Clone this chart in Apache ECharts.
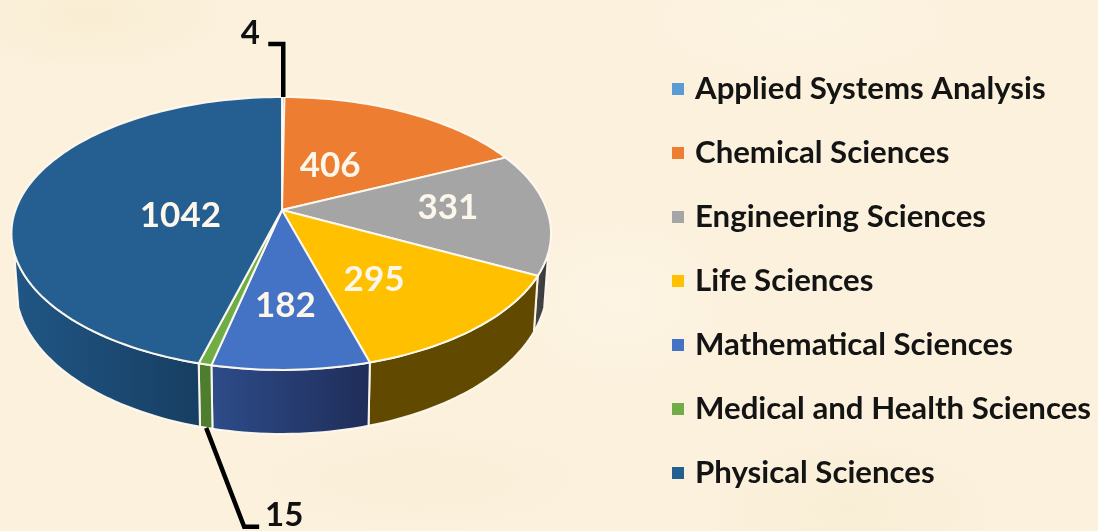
<!DOCTYPE html>
<html>
<head>
<meta charset="utf-8">
<style>
  html, body { margin: 0; height: 100%; background: #fbf1dd; }
  body {
    background-image:
      radial-gradient(ellipse 150px 60px at 90px 15px, #f9eed3 0%, rgba(249,238,211,0) 100%),
      radial-gradient(ellipse 180px 70px at 800px 20px, #fdf3e2 0%, rgba(253,243,226,0) 100%),
      radial-gradient(ellipse 120px 90px at 620px 300px, #fdf4e4 0%, rgba(253,244,228,0) 100%),
      radial-gradient(ellipse 200px 60px at 420px 480px, #faefd8 0%, rgba(250,239,216,0) 100%),
      radial-gradient(ellipse 160px 80px at 850px 510px, #f9eed5 0%, rgba(249,238,213,0) 100%);
  }
  #chart { width: 1098px; height: 531px; filter: blur(0.6px); }
</style>
</head>
<body>
<div id="chart"></div>
<script src="https://cdn.jsdelivr.net/npm/echarts@6/dist/echarts.min.js"></script>
<script>
const categories = ['Applied Systems Analysis', 'Chemical Sciences', 'Engineering Sciences', 'Life Sciences',
  'Mathematical Sciences', 'Medical and Health Sciences', 'Physical Sciences'];
const values = [4, 406, 331, 295, 182, 15, 1042];

const colors = ['#5b9bd5', '#ed7d31', '#a5a5a5', '#ffc000', '#4472c4', '#70ad47', '#255e91'];
const wallColors = [
  ['#35608a', '#35608a'],
  ['#8a4a1d', '#8a4a1d'],
  ['#4d4d4d', '#333333'],
  ['#614a00', '#614a00'],
  ['#2d4c89', '#1f2d59'],
  ['#4e7d30', '#4e7d30'],
  ['#205685', '#173e62']
];

// perspective of the tilted disc, fitted to the reference
const APEX_X = 282, APEX_Y = 210, RX = 265, RX_LEFT = 266.5, RY = 132.4, TILT = 0.172;
const DROP = 50.6, SCALE_X = 0.985, SCALE_Y = 1.084;
const WALL_FROM = 108, WALL_TO = 252;
// where each inside label sits on the disc: [angle, radius]
const LABEL_AT = [null, [28.6, 0.403], [88.6, 0.628], [146.7, 0.58], [179, 0.645], null, [263.2, 0.381]];

const total = values.reduce((a, b) => a + b, 0);
const starts = values.map((v, i) => values.slice(0, i).reduce((a, b) => a + b, 0));

function topPoint(deg, r) {
  const t = deg * Math.PI / 180;
  const u = Math.sin(t) * r, v = -Math.cos(t) * r;
  const w = 1 - TILT * v;
  return [APEX_X + (u < 0 ? RX_LEFT : RX) * u / w, APEX_Y + RY * v / w];
}

function lowPoint(deg) {
  const p = topPoint(deg, 1);
  return [APEX_X + (p[0] - APEX_X) * SCALE_X, APEX_Y + DROP + (p[1] - APEX_Y) * SCALE_Y];
}

function arc(from, to, fn) {
  const pts = [];
  const n = Math.max(2, Math.ceil((to - from) / 1.5));
  for (let i = 0; i <= n; i++) pts.push(fn(from + (to - from) * i / n));
  return pts;
}

function renderSlice(index, params, api) {
  const from = starts[index] / total * 360;
  const to = from + api.value(0) / total * 360;
  const mid = (from + to) / 2;
  const edge = 'rgba(255,250,240,0.95)';
  const children = [];

  const a = Math.max(from, WALL_FROM), b = Math.min(to, WALL_TO);
  if (b > a) {
    const upper = arc(a, b, (d) => topPoint(d, 1));
    const lower = arc(a, b, lowPoint).reverse();
    children.push({
      type: 'polygon',
      z2: 1,
      shape: { points: upper.concat(lower) },
      style: {
        fill: new echarts.graphic.LinearGradient(0, 0, 1, 0, [
          { offset: 0, color: wallColors[index][0] },
          { offset: 1, color: wallColors[index][1] }
        ]),
        stroke: edge,
        lineWidth: 2
      }
    });
  }

  const rim = arc(from, to, (d) => topPoint(d, 1));
  children.push({
    type: 'polygon',
    z2: 2,
    shape: { points: [[APEX_X, APEX_Y]].concat(rim) },
    style: { fill: colors[index], stroke: edge, lineWidth: index === 0 ? 1.5 : 2 }
  });

  if (LABEL_AT[index]) {
    const c = topPoint(LABEL_AT[index][0], LABEL_AT[index][1]);
    children.push({
      type: 'text',
      z2: 3,
      style: {
        text: String(values[index]),
        x: c[0], y: c[1],
        fill: '#fdf6ea',
        font: 'bold 35px Lato',
        textAlign: 'center',
        textVerticalAlign: 'middle'
      }
    });
  }

  // the two thin slices get a leader line outside the disc
  if (index === 0) {
    const p = topPoint(mid, 1);
    children.push({
      type: 'polyline', z2: 3,
      shape: { points: [p, [p[0], p[1] - 53], [p[0] - 15, p[1] - 53]] },
      style: { stroke: '#000', lineWidth: 4.5, fill: null }
    });
    children.push({
      type: 'text', z2: 3,
      style: { text: String(values[index]), x: p[0] - 33, y: p[1] - 64, fill: '#111', font: 'bold 33px Lato',
        textAlign: 'center', textVerticalAlign: 'middle' }
    });
  }
  if (index === 5) {
    const p = lowPoint(mid);
    children.push({
      type: 'polyline', z2: 3,
      shape: { points: [p, [p[0] + 38, p[1] + 99], [p[0] + 53, p[1] + 99]] },
      style: { stroke: '#000', lineWidth: 4.5, fill: null }
    });
    children.push({
      type: 'text', z2: 3,
      style: { text: String(values[index]), x: p[0] + 78, y: p[1] + 88, fill: '#111', font: 'bold 33px Lato',
        textAlign: 'center', textVerticalAlign: 'middle' }
    });
  }
  return { type: 'group', children: children };
}

const chart = echarts.init(document.getElementById('chart'), null, { renderer: 'canvas' });
chart.setOption({
  animation: false,
  legend: {
    data: categories,
    orient: 'vertical',
    left: 667,
    top: 66,
    icon: 'rect',
    itemWidth: 12,
    itemHeight: 12,
    itemGap: 28,
    selectedMode: false,
    textStyle: { fontFamily: 'Lato', fontWeight: 'bold', fontSize: 31.2, lineHeight: 36, color: '#141414', padding: [0, 0, 0, 6] }
  },
  series: categories.map((name, i) => ({
    type: 'custom',
    name: name,
    coordinateSystem: 'none',
    silent: true,
    itemStyle: { color: colors[i] },
    data: [values[i]],
    renderItem: (params, api) => renderSlice(i, params, api)
  }))
});
</script>
</body>
</html>
